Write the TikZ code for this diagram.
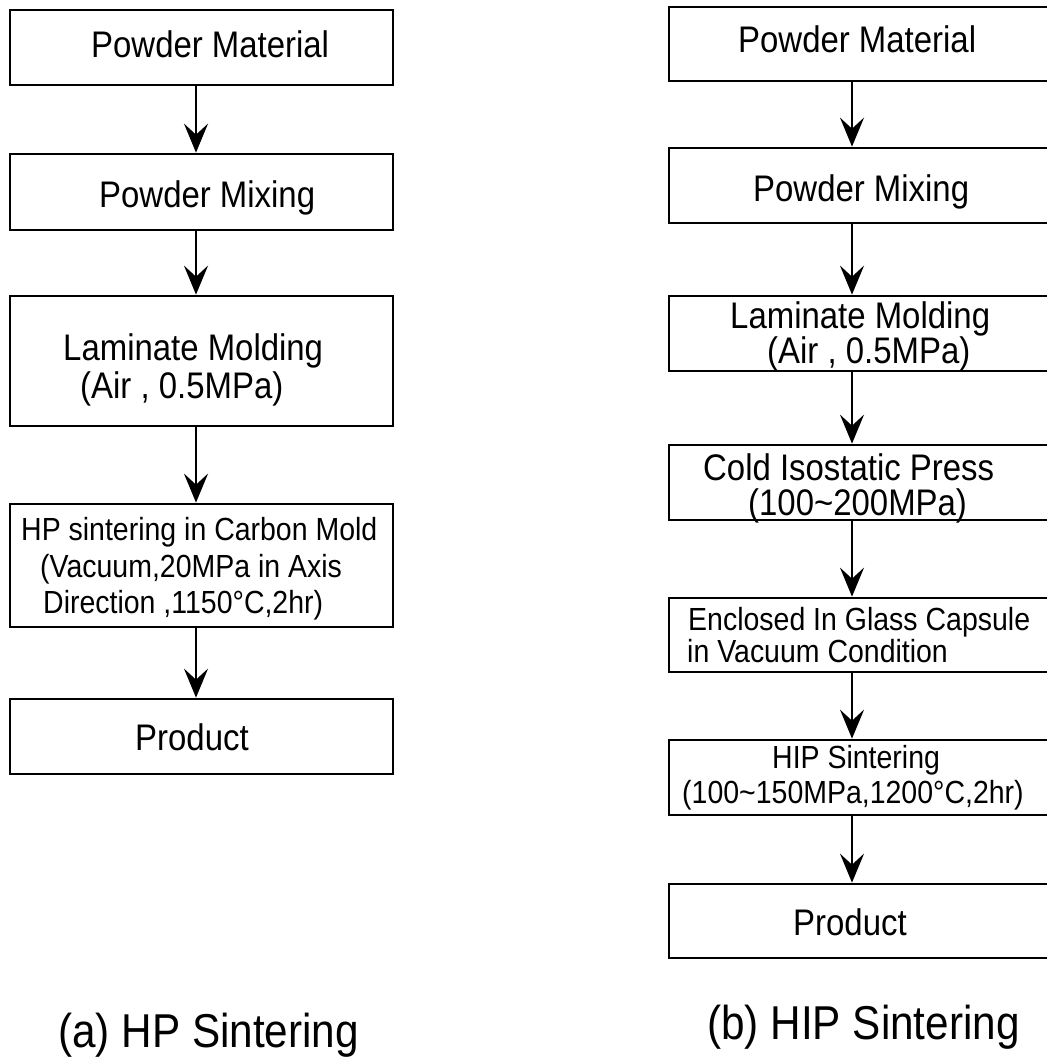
\documentclass[tikz,border=0pt]{standalone}
\usepackage{fontspec}
\setmainfont{Liberation Sans}
\newfontfamily\narrowsans[FakeStretch=0.89]{Liberation Sans}
\usetikzlibrary{arrows.meta}
\begin{document}
\begin{tikzpicture}[x=1pt, y=-1pt,
  stepbox/.style={draw, line width=2.7pt, inner sep=0pt, minimum width=383pt},
  rbox/.style={stepbox, minimum width=382pt},
  txt/.style={anchor=base west, inner sep=0pt, font=\narrowsans\fontsize{37}{37}\selectfont},
  txtsm/.style={anchor=base west, inner sep=0pt, font=\narrowsans\fontsize{32}{32}\selectfont},
  captext/.style={anchor=base west, inner sep=0pt, font=\narrowsans\fontsize{47.5}{48}\selectfont},
  flow/.style={line width=2.5pt, -{Stealth[length=29pt, width=24pt, inset=11pt]}}
]
\useasboundingbox (0,0) rectangle (1046,1059);

% ---- (a) HP sintering route ----
\node[stepbox, minimum height=75pt]  (a1) at (201.5,47.5)  {};
\node[stepbox, minimum height=76pt]  (a2) at (201.5,192)   {};
\node[stepbox, minimum height=130pt] (a3) at (201.5,361)   {};
\node[stepbox, minimum height=123pt] (a4) at (201.5,565.5) {};
\node[stepbox, minimum height=75pt]  (a5) at (201.5,736.5) {};

\node[txt] (ta1) at (91,58)   {Powder Material};
\node[txt] (ta2) at (99,208)  {Powder Mixing};
\node[txt] (ta3) at (63,360)  {Laminate Molding};
\node[txt] (ta3b) at (80,398) {(Air , 0.5MPa)};
\node[txtsm] (ta4) at (21,540)  {HP sintering in Carbon Mold};
\node[txtsm] (ta4b) at (40,577) {(Vacuum,20MPa in Axis};
\node[txtsm] (ta4c) at (43,613) {Direction ,1150°C,2hr)};
\node[txt] (ta5) at (135,750) {Product};

\foreach \u/\v in {a1/a2, a2/a3, a3/a4, a4/a5}
  \draw[flow] ([xshift=-5.5pt]\u.south) -- ([xshift=-5.5pt]\v.north);

\node[captext] (capa) at (58,1047) {(a) HP Sintering};

% ---- (b) HIP sintering route ----
\node[rbox, minimum height=74pt] (b1) at (860,44)    {};
\node[rbox, minimum height=75pt] (b2) at (860,185.5) {};
\node[rbox, minimum height=75pt] (b3) at (860,333.5) {};
\node[rbox, minimum height=75pt] (b4) at (860,482.5) {};
\node[rbox, minimum height=74pt] (b5) at (860,635)   {};
\node[rbox, minimum height=75pt] (b6) at (860,777.5) {};
\node[rbox, minimum height=74pt] (b7) at (860,921)   {};

\node[txt] (tb1) at (738,53)   {Powder Material};
\node[txt] (tb2) at (753,202)  {Powder Mixing};
\node[txt] (tb3) at (730,328)  {Laminate Molding};
\node[txt] (tb3b) at (767,363) {(Air , 0.5MPa)};
\node[txt] (tb4) at (703,480)  {Cold Isostatic Press};
\node[txt] (tb4b) at (748,515) {(100\textasciitilde200MPa)};
\node[txtsm] (tb5) at (688,630)  {Enclosed In Glass Capsule};
\node[txtsm] (tb5b) at (687,662) {in Vacuum Condition};
\node[txtsm] (tb6) at (772,768)  {HIP Sintering};
\node[txtsm] (tb6b) at (682,803) {(100\textasciitilde150MPa,1200°C,2hr)};
\node[txt] (tb7) at (793,935)  {Product};

\foreach \u/\v in {b1/b2, b2/b3, b3/b4, b4/b5, b5/b6, b6/b7}
  \draw[flow] ([xshift=-8pt]\u.south) -- ([xshift=-8pt]\v.north);

\node[captext] (capb) at (707,1039) {(b) HIP Sintering};
\end{tikzpicture}
\end{document}
